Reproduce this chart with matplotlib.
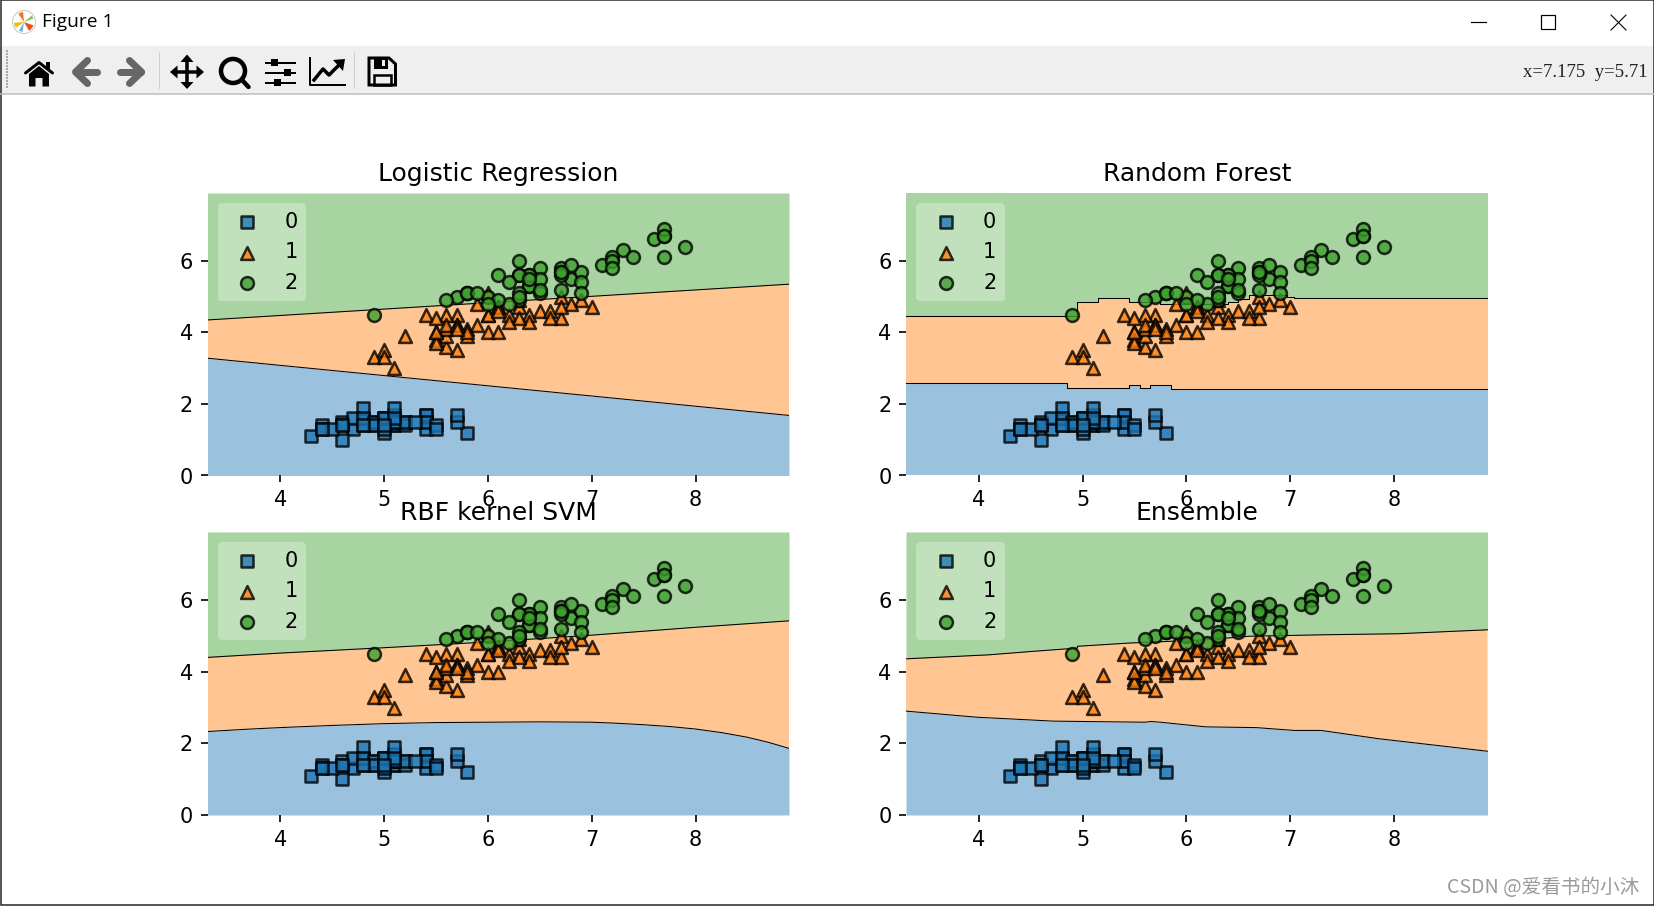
import numpy as np
import matplotlib
matplotlib.use('Agg')
import matplotlib.pyplot as plt
from matplotlib.patches import Rectangle, Circle, Polygon, Wedge

W, H = 1654, 906
DPI = 150

# iris: sepal length / petal length per class
x0 = [5.1,4.9,4.7,4.6,5.0,5.4,4.6,5.0,4.4,4.9,5.4,4.8,4.8,4.3,5.8,5.7,5.4,5.1,5.7,5.1,5.4,5.1,4.6,5.1,4.8,
      5.0,5.0,5.2,5.2,4.7,4.8,5.4,5.2,5.5,4.9,5.0,5.5,4.9,4.4,5.1,5.0,4.5,4.4,5.0,5.1,4.8,5.1,4.6,5.3,5.0]
y0 = [1.4,1.4,1.3,1.5,1.4,1.7,1.4,1.5,1.4,1.5,1.5,1.6,1.4,1.1,1.2,1.5,1.3,1.4,1.7,1.5,1.7,1.5,1.0,1.7,1.9,
      1.6,1.6,1.5,1.4,1.6,1.6,1.5,1.5,1.4,1.5,1.2,1.3,1.4,1.3,1.5,1.3,1.3,1.3,1.6,1.9,1.4,1.6,1.4,1.5,1.4]
x1 = [7.0,6.4,6.9,5.5,6.5,5.7,6.3,4.9,6.6,5.2,5.0,5.9,6.0,6.1,5.6,6.7,5.6,5.8,6.2,5.6,5.9,6.1,6.3,6.1,6.4,
      6.6,6.8,6.7,6.0,5.7,5.5,5.5,5.8,6.0,5.4,6.0,6.7,6.3,5.6,5.5,5.5,6.1,5.8,5.0,5.6,5.7,5.7,6.2,5.1,5.7]
y1 = [4.7,4.5,4.9,4.0,4.6,4.5,4.7,3.3,4.6,3.9,3.5,4.2,4.0,4.7,3.6,4.4,4.5,4.1,4.5,3.9,4.8,4.0,4.9,4.7,4.3,
      4.4,4.8,5.0,4.5,3.5,3.8,3.7,3.9,5.1,4.5,4.5,4.7,4.4,4.1,4.0,4.4,4.6,4.0,3.3,4.2,4.2,4.2,4.3,3.0,4.1]
x2 = [6.3,5.8,7.1,6.3,6.5,7.6,4.9,7.3,6.7,7.2,6.5,6.4,6.8,5.7,5.8,6.4,6.5,7.7,7.7,6.0,6.9,5.6,7.7,6.3,6.7,
      7.2,6.2,6.1,6.4,7.2,7.4,7.9,6.4,6.3,6.1,7.7,6.3,6.4,6.0,6.9,6.7,6.9,5.8,6.8,6.7,6.7,6.3,6.5,6.2,5.9]
y2 = [6.0,5.1,5.9,5.6,5.8,6.6,4.5,6.3,5.8,6.1,5.1,5.3,5.5,5.0,5.1,5.3,5.5,6.7,6.9,5.0,5.7,4.9,6.7,4.9,5.7,
      6.0,4.8,4.9,5.6,5.8,6.1,6.4,5.6,5.1,5.6,6.1,5.6,5.5,4.8,5.4,5.6,5.1,5.1,5.9,5.7,5.2,5.0,5.2,5.4,5.1]

titles = ['Logistic Regression', 'Random Forest', 'RBF kernel SVM', 'Ensemble']

# decision boundaries: (x, y) between classes
lr_low_x = [3.3, 8.9]
lr_low_y = [3.28, 1.68]
lr_up_x = [3.3, 8.9]
lr_up_y = [4.35, 5.35]

rf_low_x = [3.3, 4.85, 4.85, 5.45, 5.45, 5.55, 5.55, 5.65, 5.65, 5.85, 5.85, 8.9]
rf_low_y = [2.59, 2.59, 2.44, 2.44, 2.54, 2.54, 2.44, 2.44, 2.54, 2.54, 2.43, 2.43]
rf_up_x = [3.3, 4.95, 4.95, 5.15, 5.15, 5.45, 5.45, 5.75, 5.75, 6.4, 6.4, 6.5, 6.5, 6.6, 6.6, 6.97, 6.97, 7.04, 7.04, 8.9]
rf_up_y = [4.46, 4.46, 4.85, 4.85, 4.96, 4.96, 4.85, 4.85, 4.80, 4.80, 4.85, 4.85, 4.93, 4.93, 5.04, 5.04, 4.99, 4.99, 4.95, 4.95]

svm_low_x = [3.3, 3.65, 4.0, 4.5, 5.0, 5.5, 6.0, 6.5, 7.0, 7.25, 7.5, 7.75, 8.0, 8.25, 8.5, 8.7, 8.9]
svm_low_y = [2.33, 2.39, 2.44, 2.50, 2.55, 2.58, 2.59, 2.60, 2.59, 2.56, 2.52, 2.47, 2.40, 2.30, 2.17, 2.03, 1.86]
svm_up_x = [3.3, 4.0, 5.0, 6.0, 7.0, 8.0, 8.9]
svm_up_y = [4.40, 4.52, 4.67, 4.83, 5.02, 5.24, 5.42]

ens_low_x = [3.3, 3.98, 4.72, 5.60, 5.66, 5.75, 6.19, 6.67, 7.04, 7.3, 7.85, 8.9]
ens_low_y = [2.90, 2.73, 2.62, 2.59, 2.61, 2.59, 2.46, 2.44, 2.36, 2.36, 2.13, 1.78]
ens_up_x = [3.3, 4.09, 4.53, 4.95, 4.95, 5.45, 6.19, 6.6, 7.3, 8.04, 8.9]
ens_up_y = [4.36, 4.47, 4.57, 4.66, 4.71, 4.80, 4.89, 4.99, 5.03, 5.06, 5.17]

lows = [(lr_low_x, lr_low_y), (rf_low_x, rf_low_y), (svm_low_x, svm_low_y), (ens_low_x, ens_low_y)]
ups = [(lr_up_x, lr_up_y), (rf_up_x, rf_up_y), (svm_up_x, svm_up_y), (ens_up_x, ens_up_y)]

colors = ['#1f77b4', '#ff7f0e', '#3ca02c']
markers = ['s', '^', 'o']
class_x = [x0, x1, x2]
class_y = [y0, y1, y2]
labels = ['0', '1', '2']

# panel boxes in window pixels: left, right, top, bottom
boxes = [(207.5, 789, 193, 475.5), (906, 1487.5, 193, 475.5),
         (207.5, 789, 532, 815), (906, 1487.5, 532, 815)]

fig = plt.figure(figsize=((W + 0.01) / DPI, (H + 0.01) / DPI), dpi=DPI, facecolor='white')


def draw_chrome():
    ov = fig.add_axes([0, 0, 1, 1], zorder=-1)
    ov.set_xlim(0, W)
    ov.set_ylim(H, 0)
    ov.axis('off')
    px = 72 / DPI

    ov.add_patch(Rectangle((0, 46), W, 48, fc='#efefef', ec='none'))
    ov.plot([0, W], [94.5, 94.5], color='#bdbdbd', lw=1.5 * px)
    ov.add_patch(Rectangle((0.5, 0.5), W - 1, H - 1, fc='none', ec='#222222', lw=1.5 * px))

    # window icon
    ov.add_patch(Circle((24, 22), 11.5, fc='white', ec='#c8c8c8', lw=1 * px))
    for a, b, c in [(95, 125, '#f07820'), (185, 215, '#f5b800'), (300, 340, '#e85020'), (20, 40, '#8cc850'), (240, 262, '#70b0e0')]:
        ov.add_patch(Wedge((24, 22), 10, -b, -a, fc=c, ec='none'))
    ov.text(42, 22, 'Figure 1', fontsize=9.2, family='Open Sans', va='center', ha='left', color='black')

    # window buttons
    ov.plot([1471, 1486], [22, 22], color='black', lw=1.2 * px)
    ov.add_patch(Rectangle((1540.5, 15.5), 14, 14, fc='none', ec='black', lw=1.2 * px))
    ov.plot([1611, 1626], [15, 30], color='black', lw=1.1 * px)
    ov.plot([1611, 1626], [30, 15], color='black', lw=1.1 * px)

    # grip + separators
    grip_y = np.arange(51, 90, 3)
    ov.scatter([7] * len(grip_y), grip_y, s=1.0, marker='s', color='#a8a8a8', linewidths=0)
    for sx in [158.5, 353.5]:
        ov.plot([sx, sx], [52, 88], color='#cfcfcf', lw=1 * px)

    k = 'black'
    g = '#666666'
    # home
    ov.plot([25.5, 39, 52.5], [73, 62.5, 73], color=k, lw=3 * px, solid_capstyle='round')
    ov.add_patch(Polygon([(29, 74), (39, 66), (49, 74), (49, 86.5), (42.5, 86.5), (42.5, 78), (35.5, 78), (35.5, 86.5), (29, 86.5)], fc=k, ec='none'))
    ov.add_patch(Rectangle((46, 62), 4, 8, fc=k, ec='none'))
    # back / forward
    ov.plot([97, 76], [72, 72], color=g, lw=7 * px, solid_capstyle='round')
    ov.plot([87.5, 75.5, 87.5], [60.5, 72, 83.5], color=g, lw=7 * px, solid_capstyle='round', solid_joinstyle='round')
    ov.plot([120, 141], [72, 72], color=g, lw=7 * px, solid_capstyle='round')
    ov.plot([129.5, 141.5, 129.5], [60.5, 72, 83.5], color=g, lw=7 * px, solid_capstyle='round', solid_joinstyle='round')
    # move
    ov.plot([174, 200], [72, 72], color=k, lw=3.5 * px)
    ov.plot([187, 187], [59, 85], color=k, lw=3.5 * px)
    for pts in [[(187, 54.5), (180.5, 62), (193.5, 62)], [(187, 89), (180.5, 82), (193.5, 82)],
                [(170, 72), (177.5, 65.5), (177.5, 78.5)], [(204, 72), (196.5, 65.5), (196.5, 78.5)]]:
        ov.add_patch(Polygon(pts, fc=k, ec='none'))
    # zoom
    ov.add_patch(Circle((233, 71), 12, fc='none', ec=k, lw=4.5 * px))
    ov.plot([242, 248.5], [80, 87], color=k, lw=4.5 * px, solid_capstyle='round')
    # sliders
    for sy, kx in [(63, 274), (73, 287), (83, 277)]:
        ov.plot([265.5, 295], [sy, sy], color=k, lw=2 * px)
        ov.add_patch(Rectangle((kx - 3.5, sy - 3.5), 7, 7, fc=k, ec='none'))
    # chart
    ov.plot([310, 310, 345], [58, 85, 85], color=k, lw=2 * px)
    ov.plot([314, 323, 329, 339], [80, 69, 75, 65], color=k, lw=3.5 * px)
    ov.add_patch(Polygon([(345, 59), (333, 60), (343, 71)], fc=k, ec='none'))
    # save
    ov.add_patch(Polygon([(369, 58), (389, 58), (395.5, 64), (395.5, 85), (369, 85)], fc='none', ec=k, lw=3 * px))
    ov.add_patch(Rectangle((374, 58), 14, 11, fc=k, ec='none'))
    ov.add_patch(Rectangle((381.5, 60), 3.5, 6.5, fc='#efefef', ec='none'))
    ov.add_patch(Rectangle((374, 75.5), 16.5, 9.5, fc='none', ec=k, lw=2.5 * px))

    ov.text(1648, 72, 'x=7.175  y=5.71', fontsize=9, family='Liberation Serif', va='center', ha='right', color='#222222')
    ov.text(1447, 887, 'CSDN @爱看书的小沐', fontsize=9.4, family=['Noto Sans CJK SC', 'DejaVu Sans'],
            va='center', ha='left', color='#9a9a9a')


draw_chrome()

for i, title in enumerate(titles):
    left, right, top, bottom = boxes[i]
    ax = fig.add_axes([left / W, 1 - bottom / H, (right - left) / W, (bottom - top) / H])

    low_x, low_y = lows[i]
    up_x, up_y = ups[i]
    ax.fill_between(low_x, 0, low_y, color=colors[0], alpha=0.45, linewidth=0)
    ax.fill_between(up_x, up_y, 7.9, color=colors[2], alpha=0.45, linewidth=0)
    ax.fill(list(low_x) + list(up_x)[::-1], list(low_y) + list(up_y)[::-1], color=colors[1], alpha=0.45, linewidth=0)
    ax.plot(low_x, low_y, color='black', lw=0.5)
    ax.plot(up_x, up_y, color='black', lw=0.5)

    for j in range(3):
        ax.scatter(class_x[j], class_y[j], c=colors[j], marker=markers[j], s=38, alpha=0.8,
                   edgecolors='black', linewidths=1.2, label=labels[j], zorder=3)

    ax.set_xlim(3.3, 8.9)
    ax.set_ylim(0, 7.9)
    ax.set_xticks([4, 5, 6, 7, 8])
    ax.set_yticks([0, 2, 4, 6])
    ax.set_title(title)
    for s in ax.spines.values():
        s.set_visible(False)
    ax.legend(loc='upper left', framealpha=0.3, scatterpoints=1, frameon=True, edgecolor='none')

fig.savefig('out.png', dpi=DPI, facecolor='white')
